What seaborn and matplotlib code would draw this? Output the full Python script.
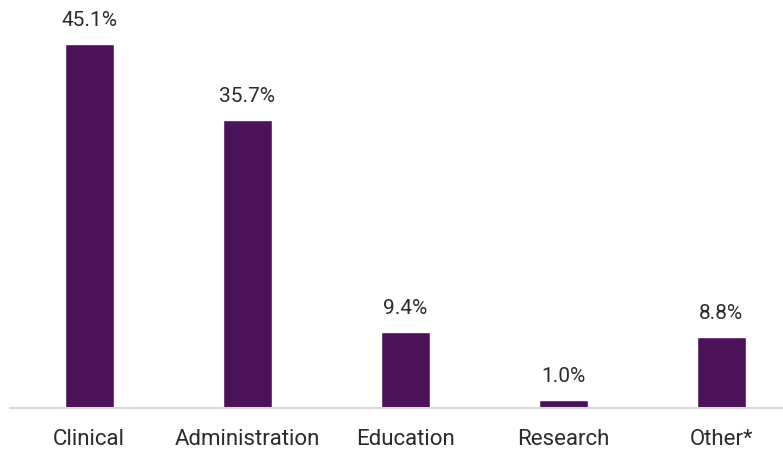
import matplotlib
matplotlib.use("Agg")
import matplotlib.pyplot as plt
import seaborn as sns
import pandas as pd

categories = ["Clinical", "Administration", "Education", "Research", "Other*"]
values = [45.1, 35.7, 9.4, 1.0, 8.8]
labels = ["45.1%", "35.7%", "9.4%", "1.0%", "8.8%"]

sns.set_style("white")
plt.rcParams['font.family'] = ['Roboto', 'DejaVu Sans']

df = pd.DataFrame({"category": categories, "value": values})

fig = plt.figure(figsize=(7.83, 4.49), dpi=100)
ax = fig.add_axes([10/783, 41/449, 773/783, 408/449])
sns.barplot(data=df, x="category", y="value", color="#4B1259", saturation=1,
            width=0.31, ax=ax)
ax.set_xlim(-0.5, 4.39)
ax.set_ylim(0, 50.5)
for i, (v, t) in enumerate(zip(values, labels)):
    ax.text(i, v + 1.7, t, ha="center", va="bottom", fontsize=15, color="#2b2b2b")
for s in ["top", "right", "left"]:
    ax.spines[s].set_visible(False)
ax.spines["bottom"].set_color("#d9d9d9")
ax.spines["bottom"].set_linewidth(1.5)
ax.set_yticks([])
ax.set_xlabel("")
ax.set_ylabel("")
ax.tick_params(axis="x", length=0, pad=15, labelsize=16, labelcolor="#2b2b2b")
fig.savefig("out.png", dpi=100)
